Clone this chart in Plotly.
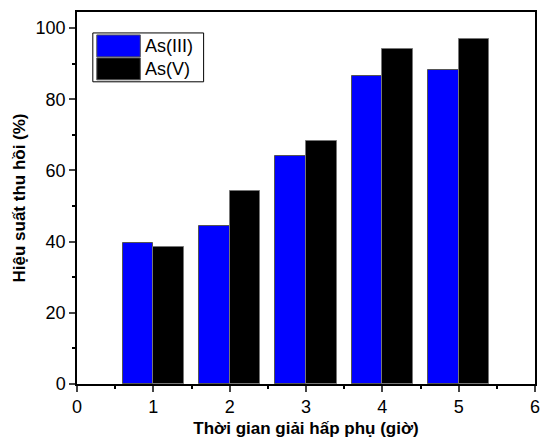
import plotly.graph_objects as go

times = [1, 2, 3, 4, 5]
as3 = [39.7, 44.4, 64.1, 86.4, 88.1]
as5 = [38.6, 54.1, 68.3, 94.0, 96.8]
series_names = ["As(III)", "As(V)"]
colors = ["#0000FF", "#000000"]

fig = go.Figure()
fig.add_trace(go.Bar(x=times, y=as3, name=series_names[0], width=0.4, offset=-0.4,
                     marker=dict(color=colors[0], line=dict(color="#555555", width=1)),
                     showlegend=False))
fig.add_trace(go.Bar(x=times, y=as5, name=series_names[1], width=0.4, offset=0,
                     marker=dict(color=colors[1], line=dict(color="#777777", width=1)),
                     showlegend=False))

# custom legend box (matches the original's large swatches)
lx0, lx1, ly0, ly1 = 93, 205, 33, 82
W, H = 550, 445
ml, mr, mt, mb = 77, 10, 12, 60
pw, ph = W - ml - mr, H - mt - mb
def px(x): return (x - ml) / pw
def py(y): return 1 - (y - mt) / ph

shapes = [dict(type="rect", xref="paper", yref="paper", x0=px(lx0), x1=px(lx1), y0=py(ly1), y1=py(ly0),
               line=dict(color="#000000", width=1), fillcolor="white", layer="above")]
rows = [(35, 57), (58, 80)]
for (t, b), c, n in zip(rows, colors, series_names):
    shapes.append(dict(type="rect", xref="paper", yref="paper", x0=px(97), x1=px(141), y0=py(b), y1=py(t),
                       line=dict(color="#555555", width=1), fillcolor=c, layer="above"))
annotations = []
for (t, b), n in zip(rows, series_names):
    annotations.append(dict(text=n, xref="paper", yref="paper", x=px(144), y=py((t + b) / 2),
                            xanchor="left", yanchor="middle", showarrow=False,
                            font=dict(family="Liberation Sans, Arial", size=18, color="#000")))

fig.update_layout(
    width=W, height=H,
    margin=dict(l=ml, r=mr, t=mt, b=mb),
    plot_bgcolor="white", paper_bgcolor="white",
    bargap=0, shapes=shapes, annotations=annotations,
    font=dict(family="Liberation Sans, Arial", size=18, color="#000"),
    xaxis=dict(range=[0, 6], tickmode="linear", tick0=0, dtick=1, ticks="outside", ticklen=6,
               tickwidth=1.5, showline=True, linecolor="#000", linewidth=1.5, mirror=True,
               showgrid=False, zeroline=False, tickfont=dict(size=18),
               minor=dict(dtick=0.5, ticks="outside", ticklen=3, tickwidth=1.5, tickcolor="#000"),
               title=dict(text="<b>Thời gian giải hấp phụ (giờ)</b>", font=dict(size=17), standoff=6)),
    yaxis=dict(range=[0, 104.5], tickmode="linear", tick0=0, dtick=20, ticks="outside", ticklen=6,
               tickwidth=1.5, showline=True, linecolor="#000", linewidth=1.5, mirror=True,
               showgrid=False, zeroline=False, tickfont=dict(size=18),
               minor=dict(dtick=10, ticks="outside", ticklen=3, tickwidth=1.5, tickcolor="#000"),
               title=dict(text="<b>Hiệu suất thu hồi (%)</b>", font=dict(size=17), standoff=6)),
)

fig.write_html("out.html")
